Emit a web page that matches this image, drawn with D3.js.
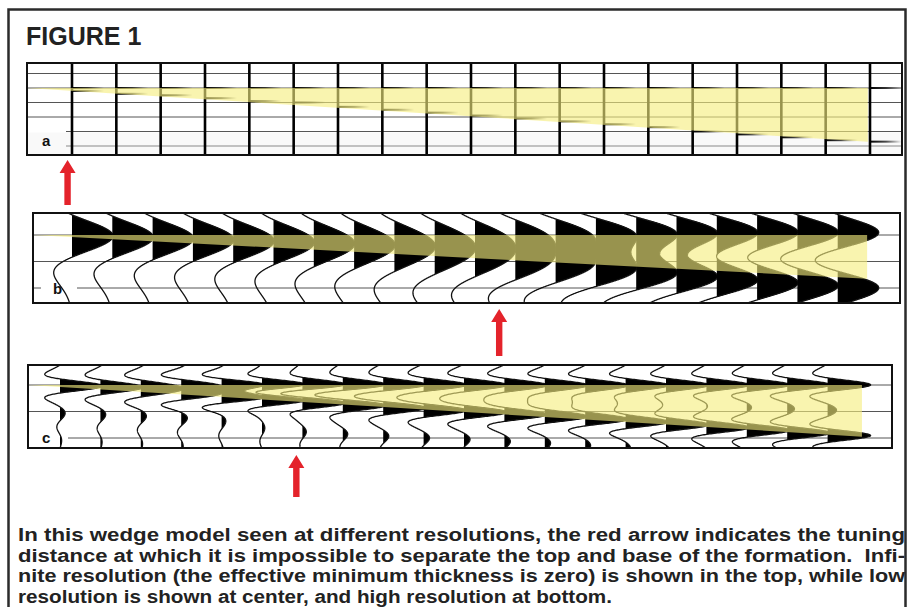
<!DOCTYPE html>
<html>
<head>
<meta charset="utf-8">
<script src="https://cdn.jsdelivr.net/npm/d3@7"></script>
<style>
  body { margin: 0; background: #fff; }
  svg { display: block; }
  text { font-family: "Liberation Sans", Arial, sans-serif; font-weight: bold; }
</style>
</head>
<body>
<svg id="fig" width="909" height="607"></svg>
<script>
// ---------------- Data ----------------
const title = "FIGURE 1";
const panelLabels = ["a", "b", "c"];

// Trace numbers in each section
const tracesA = d3.range(19);   // infinite resolution (spikes)
const tracesB = d3.range(20);   // low resolution
const tracesC = d3.range(20);   // high resolution

// Wedge thickness (ms) beneath each trace
const thickA = [2, 4, 5, 7, 9, 10, 13, 15, 17, 19, 21, 23, 25, 27, 30, 32, 34, 36, 37];
const thickBC = [1.5, 3.4, 5.3, 7.2, 9, 11, 13, 15, 17, 19, 20.5, 22.4, 24, 26, 28, 30, 32, 34, 36, 38];

// Shaded wedge outline: top time (ms), pinch-out and far end (trace units), thickness at far end (ms)
const wedgeTopA = 10, wedgePinchA = -1.02, wedgeEndA = 17.95, wedgeEndThickA = 37;
const wedgeTopB = 20, wedgePinchB = -0.97, wedgeEndB = 19.73, wedgeEndThickB = 33;
const wedgeTopC = 20, wedgePinchC = -0.79, wedgeEndC = 19.85, wedgeEndThickC = 39;

// Timing lines (ms)
const timingA = [0, 10, 20, 30, 40, 50];
const timingB = [20, 40, 60];
const timingC = [20, 40, 60];

// Tuning distance (trace units) marked by the red arrows
const tuningA = -0.1, tuningB = 10.6, tuningC = 5.85;

const caption = [
  "In this wedge model seen at different resolutions, the red arrow indicates the tuning",
  "distance at which it is impossible to separate the top and base of the formation.  Infi-",
  "nite resolution (the effective minimum thickness is zero) is shown in the top, while low",
  "resolution is shown at center, and high resolution at bottom."
];
const captionWidths = [887, 887, 887, 594];

// ---------------- Wavelets ----------------
const ricker = s => t => { const u = (t / s) * (t / s); return (1 - 2 * u) * Math.exp(-u); };
const ringing = (P, t1, t2, w2) => t =>
  Math.cos(2 * Math.PI * t / P) *
  ((1 - w2) * Math.exp(-((t / t1) * (t / t1))) + w2 * Math.exp(-((t / t2) * (t / t2))));

// ---------------- Layout ----------------
const svg = d3.select("#fig");
const defs = svg.append("defs");
const YELLOW = "#f5ee7e", YELLOW_OP = 0.62, RED = "#e4232b";

// outer frame
svg.append("rect").attr("x", 8.5).attr("y", 9.5).attr("width", 897).attr("height", 700)
  .attr("fill", "#fff").attr("stroke", "#2b2b2b").attr("stroke-width", 2.5);

svg.append("text").attr("x", 26).attr("y", 45).attr("font-size", 25).attr("fill", "#222")
  .text(title);

function makePanel(id, box, xDom, xRng, yDom, yRng) {
  const g = svg.append("g");
  defs.append("clipPath").attr("id", "clip-" + id).append("rect")
    .attr("x", box.x0).attr("y", box.y0).attr("width", box.x1 - box.x0).attr("height", box.y1 - box.y0);
  g.append("rect").attr("x", box.x0).attr("y", box.y0).attr("width", box.x1 - box.x0)
    .attr("height", box.y1 - box.y0).attr("fill", "#fff");
  const inner = g.append("g").attr("clip-path", `url(#clip-${id})`);
  const x = d3.scaleLinear().domain(xDom).range(xRng);
  const y = d3.scaleLinear().domain(yDom).range(yRng);
  return { g, inner, x, y, box };
}

function drawWedge(p, top, pinch, end, endThick) {
  const pts = [[pinch, top], [end, top], [end, top + endThick]];
  p.inner.append("path")
    .attr("d", d3.line().x(d => p.x(d[0])).y(d => p.y(d[1]))(pts) + "Z")
    .attr("fill", YELLOW).attr("fill-opacity", YELLOW_OP);
}

function drawFrame(p) {
  p.g.append("rect").attr("x", p.box.x0).attr("y", p.box.y0)
    .attr("width", p.box.x1 - p.box.x0).attr("height", p.box.y1 - p.box.y0)
    .attr("fill", "none").attr("stroke", "#111").attr("stroke-width", 2);
}

function drawLabel(p, txt, x, y) {
  p.g.append("text").attr("x", x).attr("y", y).attr("font-size", 15).attr("fill", "#111").text(txt);
}

function drawArrow(x, yTip, yEnd) {
  const hw = 8, hh = 13, sw = 3.2;
  const d = `M${x},${yTip} L${x + hw},${yTip + hh} L${x + sw},${yTip + hh} L${x + sw},${yEnd}
             L${x - sw},${yEnd} L${x - sw},${yTip + hh} L${x - hw},${yTip + hh} Z`;
  svg.append("path").attr("d", d).attr("fill", RED);
}

// Seismic traces: top and base reflections convolved with the wavelet,
// each trace balanced to its own peak and clipped, positive lobes filled black.
function drawTraces(p, traces, thick, top, wavelet, gain, clip) {
  const tA = p.y.invert(p.box.y0) - 3, tB = p.y.invert(p.box.y1) + 3;
  const amp = d3.scaleLinear().domain([-1, 1]).range([-gain, gain]);
  const cl = v => Math.max(-clip, Math.min(clip, v));
  traces.forEach(i => {
    const base = top + thick[i];
    const samples = [];
    for (let t = tA; t <= tB; t += 0.15) samples.push({ t, v: wavelet(t - top) + wavelet(t - base) });
    const m = d3.max(samples, d => Math.abs(d.v));
    samples.forEach(d => d.a = cl(amp(d.v / m)));
    const x0 = p.x(i);
    p.inner.append("path")
      .attr("d", d3.area().y(d => p.y(d.t)).x0(x0).x1(d => x0 + Math.max(0, d.a))(samples))
      .attr("fill", "#000");
    p.inner.append("path")
      .attr("d", d3.line().y(d => p.y(d.t)).x(d => x0 + d.a)(samples))
      .attr("fill", "none").attr("stroke", "#111").attr("stroke-width", 1.3);
  });
}

// ---------- Panel a: infinite resolution ----------
const pA = makePanel("a", { x0: 27, y0: 63, x1: 902, y1: 155 }, [0, 18], [72, 870], [0, 50], [73.5, 146]);
pA.inner.selectAll(null).data(timingA).join("line")
  .attr("x1", (d, i) => i >= 4 ? 66 : pA.box.x0).attr("x2", pA.box.x1)
  .attr("y1", d => pA.y(d)).attr("y2", d => pA.y(d))
  .attr("stroke", "#555").attr("stroke-width", 1);
pA.inner.append("rect").attr("x", pA.box.x0).attr("y", pA.y(40) + 1).attr("width", pA.box.x1 - pA.box.x0)
  .attr("height", pA.box.y1 - pA.y(40)).attr("fill", "#eeeeee").attr("fill-opacity", 0.35);
pA.inner.selectAll(null).data(tracesA).join("line")
  .attr("x1", d => pA.x(d)).attr("x2", d => pA.x(d))
  .attr("y1", pA.box.y0).attr("y2", pA.box.y1)
  .attr("stroke", "#000").attr("stroke-width", 2.6);
const spikeGrad = defs.append("linearGradient").attr("id", "spike");
spikeGrad.append("stop").attr("offset", 0).attr("stop-color", "#000").attr("stop-opacity", 1);
spikeGrad.append("stop").attr("offset", 0.5).attr("stop-color", "#000").attr("stop-opacity", 0.7);
spikeGrad.append("stop").attr("offset", 1).attr("stop-color", "#000").attr("stop-opacity", 0);
const spikes = tracesA.flatMap(k => [{ k, t: wedgeTopA }, { k, t: wedgeTopA + thickA[k] }]);
pA.inner.selectAll(null).data(spikes).join("rect")
  .attr("x", d => pA.x(d.k)).attr("y", d => pA.y(d.t) - 1)
  .attr("width", 32).attr("height", 2).attr("fill", "url(#spike)");
drawWedge(pA, wedgeTopA, wedgePinchA, wedgeEndA, wedgeEndThickA);
drawFrame(pA);
drawLabel(pA, panelLabels[0], 42, 146);

// ---------- Panel b: low resolution ----------
const pB = makePanel("b", { x0: 33, y0: 213, x1: 900, y1: 303 }, [0, 19], [72, 72 + 40.3 * 19], [20, 60], [235, 288]);
pB.inner.selectAll(null).data(timingB).join("line")
  .attr("x1", (d, i) => i === timingB.length - 1 ? 77 : pB.box.x0).attr("x2", pB.box.x1)
  .attr("y1", d => pB.y(d)).attr("y2", d => pB.y(d))
  .attr("stroke", "#555").attr("stroke-width", 1);
pB.inner.append("line").attr("x1", pB.box.x0).attr("x2", 41)
  .attr("y1", pB.y(timingB[2])).attr("y2", pB.y(timingB[2])).attr("stroke", "#555");
drawTraces(pB, tracesB, thickBC, wedgeTopB, ricker(22.6), 41, 44);
drawWedge(pB, wedgeTopB, wedgePinchB, wedgeEndB, wedgeEndThickB);
drawFrame(pB);
drawLabel(pB, panelLabels[1], 53, 294);

// ---------- Panel c: high resolution ----------
const pC = makePanel("c", { x0: 28, y0: 365, x1: 892, y1: 448 }, [0, 19], [60, 60 + 40.4 * 19], [20, 60], [385, 438]);
pC.inner.selectAll(null).data(timingC).join("line")
  .attr("x1", (d, i) => i === timingC.length - 1 ? 68 : pC.box.x0).attr("x2", pC.box.x1)
  .attr("y1", d => pC.y(d)).attr("y2", d => pC.y(d))
  .attr("stroke", "#555").attr("stroke-width", 1);
drawTraces(pC, tracesC, thickBC, wedgeTopC, ringing(21, 8, 34, 0.17), 43, 46);
drawWedge(pC, wedgeTopC, wedgePinchC, wedgeEndC, wedgeEndThickC);
drawFrame(pC);
drawLabel(pC, panelLabels[2], 42, 443);

// ---------- Tuning arrows ----------
drawArrow(pA.x(tuningA), 160, 205);
drawArrow(pB.x(tuningB), 309, 356);
drawArrow(pC.x(tuningC), 455, 497);

// ---------- Caption ----------
const cap = svg.append("g").attr("fill", "#222");
cap.selectAll(null).data(caption).join("text")
  .attr("x", 18).attr("y", (d, i) => 541 + i * 20.5)
  .attr("font-size", 18)
  .style("white-space", "pre")
  .attr("textLength", (d, i) => captionWidths[i])
  .attr("lengthAdjust", "spacingAndGlyphs")
  .text(d => d);
</script>
</body>
</html>
